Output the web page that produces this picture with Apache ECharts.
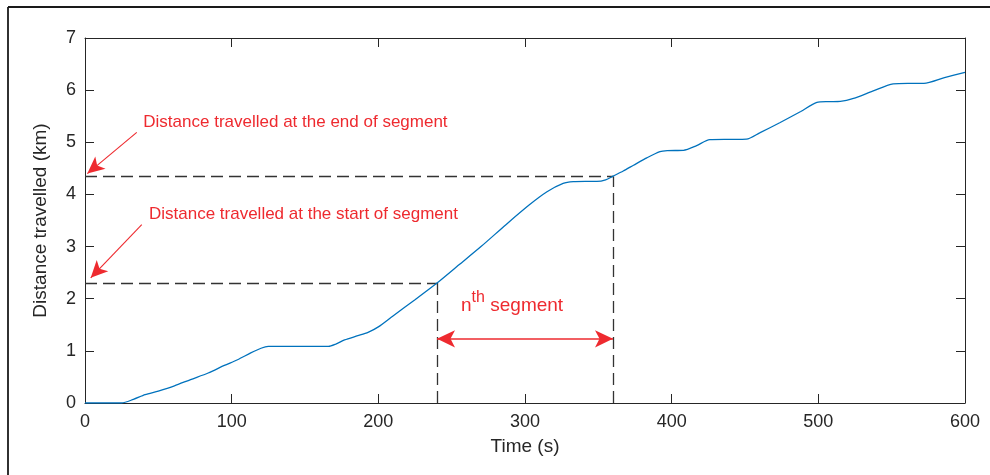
<!DOCTYPE html>
<html>
<head>
<meta charset="utf-8">
<script src="https://cdn.jsdelivr.net/npm/echarts@6/dist/echarts.min.js"></script>
<style>
  html, body { margin: 0; padding: 0; background: #fff; }
  #chart { width: 990px; height: 475px; }
</style>
</head>
<body>
<div id="chart"></div>
<script>
// Cumulative distance over the trip
const timeS = [0, 25, 33, 41, 50, 61, 72, 84, 95, 104, 113, 120, 125, 140, 155, 166, 171, 177, 186, 193, 200, 210, 225, 240, 255, 270, 287, 303, 315, 326, 333, 341, 349, 355, 360, 367, 374, 383, 392, 397, 408, 417, 426, 440, 451, 460, 474, 488, 499, 507, 515, 524, 537, 551, 561, 572, 586, 600];
const distanceKm = [0, 0, 0.07, 0.16, 0.23, 0.33, 0.45, 0.575, 0.72, 0.83, 0.96, 1.05, 1.085, 1.085, 1.085, 1.085, 1.13, 1.21, 1.29, 1.355, 1.46, 1.67, 1.98, 2.3, 2.65, 3.0, 3.42, 3.8, 4.05, 4.21, 4.245, 4.25, 4.25, 4.28, 4.35, 4.45, 4.56, 4.7, 4.82, 4.84, 4.845, 4.935, 5.05, 5.055, 5.06, 5.18, 5.38, 5.59, 5.765, 5.78, 5.785, 5.84, 5.98, 6.12, 6.13, 6.13, 6.24, 6.34];

// Segment bounds (time) and distances at those bounds
const segStartT = 240;
const segEndT = 360;
const segStartD = 2.3;
const segEndD = 4.35;
const segArrowD = 1.23;

// Annotation texts
const endLabel = 'Distance travelled at the end of segment';
const startLabel = 'Distance travelled at the start of segment';

const ink = '#262626';
const red = '#ee2a2f';
const font = 'Liberation Sans, Arial, Helvetica, sans-serif';

const chart = echarts.init(document.getElementById('chart'), null, { renderer: 'canvas' });

const baseX = {
  type: 'value', min: 0, max: 600, interval: 100,
  axisLine: { show: true, onZero: false, lineStyle: { color: ink, width: 1 } },
  axisTick: { show: true, inside: true, length: 9, lineStyle: { color: ink, width: 1 } },
  splitLine: { show: false }
};
const baseY = {
  type: 'value', min: 0, max: 7, interval: 1,
  axisLine: { show: true, onZero: false, lineStyle: { color: ink, width: 1 } },
  axisTick: { show: true, inside: true, length: 9, lineStyle: { color: ink, width: 1 } },
  splitLine: { show: false }
};

const option = {
  animation: false,
  backgroundColor: '#fff',
  textStyle: { fontFamily: font },
  grid: { left: 85, right: 25, top: 38, bottom: 72, containLabel: false, outerBoundsMode: 'none' },
  xAxis: [
    Object.assign({}, baseX, {
      position: 'bottom',
      name: 'Time (s)', nameLocation: 'middle', nameGap: 34,
      nameTextStyle: { color: ink, fontSize: 19, fontFamily: font },
      axisLabel: { color: ink, fontSize: 18, margin: 10, fontFamily: font }
    }),
    Object.assign({}, baseX, { position: 'top', axisLabel: { show: false } })
  ],
  yAxis: [
    Object.assign({}, baseY, {
      position: 'left',
      name: 'Distance travelled (km)', nameLocation: 'middle', nameGap: 35,
      nameTextStyle: { color: ink, fontSize: 19, fontFamily: font },
      axisLabel: { color: ink, fontSize: 18, margin: 9, fontFamily: font }
    }),
    Object.assign({}, baseY, { position: 'right', axisLabel: { show: false } })
  ],
  series: [
    {
      type: 'line',
      data: timeS.map((t, i) => [t, distanceKm[i]]),
      showSymbol: false,
      smooth: 0.25,
      lineStyle: { color: '#0072bd', width: 1.3 },
      z: 5
    },
    {
      // dashed guides marking the segment bounds
      type: 'line', data: [], silent: true,
      markLine: {
        silent: true, symbol: ['none', 'none'], label: { show: false },
        lineStyle: { color: '#333', width: 1.3, type: [12, 6] },
        data: [
          [{ coord: [0, segStartD] }, { coord: [segStartT, segStartD] }],
          [{ coord: [segStartT, 0] }, { coord: [segStartT, segStartD] }],
          [{ coord: [0, segEndD] }, { coord: [segEndT, segEndD] }],
          [{ coord: [segEndT, 0] }, { coord: [segEndT, segEndD] }]
        ]
      }
    },
    {
      // double arrow across the segment
      type: 'line', data: [], silent: true,
      markLine: {
        silent: true, symbol: ['arrow', 'arrow'], symbolSize: [13, 18], label: { show: false },
        lineStyle: { color: red, width: 1.5, type: 'solid' },
        itemStyle: { color: red },
        data: [
          [{ coord: [segStartT, segArrowD] }, { coord: [segEndT, segArrowD] }]
        ]
      }
    },
    {
      // pointers from the notes to the y axis
      type: 'line', data: [], silent: true,
      markLine: {
        silent: true, symbol: ['none', 'arrow'], symbolSize: [12, 17], label: { show: false },
        lineStyle: { color: red, width: 1.1, type: 'solid' },
        itemStyle: { color: red },
        data: [
          [{ coord: [35.3, 5.19] }, { coord: [1.6, 4.4] }],
          [{ coord: [38.7, 3.42] }, { coord: [3.9, 2.4] }]
        ]
      },
      markPoint: {
        silent: true, symbol: 'circle', symbolSize: 0,
        label: { show: true, position: 'right', distance: 0, color: red, fontSize: 17, fontFamily: font },
        data: [
          { coord: [39.75, 5.39], label: { formatter: endLabel } },
          { coord: [43.6, 3.617], label: { formatter: startLabel } },
          {
            coord: [256.4, 1.93],
            label: {
              formatter: '{n|n}{sup|th}{n| segment}',
              rich: {
                n: { color: red, fontSize: 19, fontFamily: font, verticalAlign: 'bottom', lineHeight: 26 },
                sup: { color: red, fontSize: 16, fontFamily: font, verticalAlign: 'top', lineHeight: 26 }
              }
            }
          }
        ]
      }
    }
  ],
  graphic: [
    // outer frame of the figure
    { type: 'line', shape: { x1: 8, y1: 7, x2: 990, y2: 7 }, style: { stroke: '#1a1a1a', lineWidth: 1.8 }, silent: true },
    { type: 'line', shape: { x1: 8, y1: 7, x2: 8, y2: 475 }, style: { stroke: '#1a1a1a', lineWidth: 1.8 }, silent: true }
  ]
};

chart.setOption(option);
</script>
</body>
</html>
